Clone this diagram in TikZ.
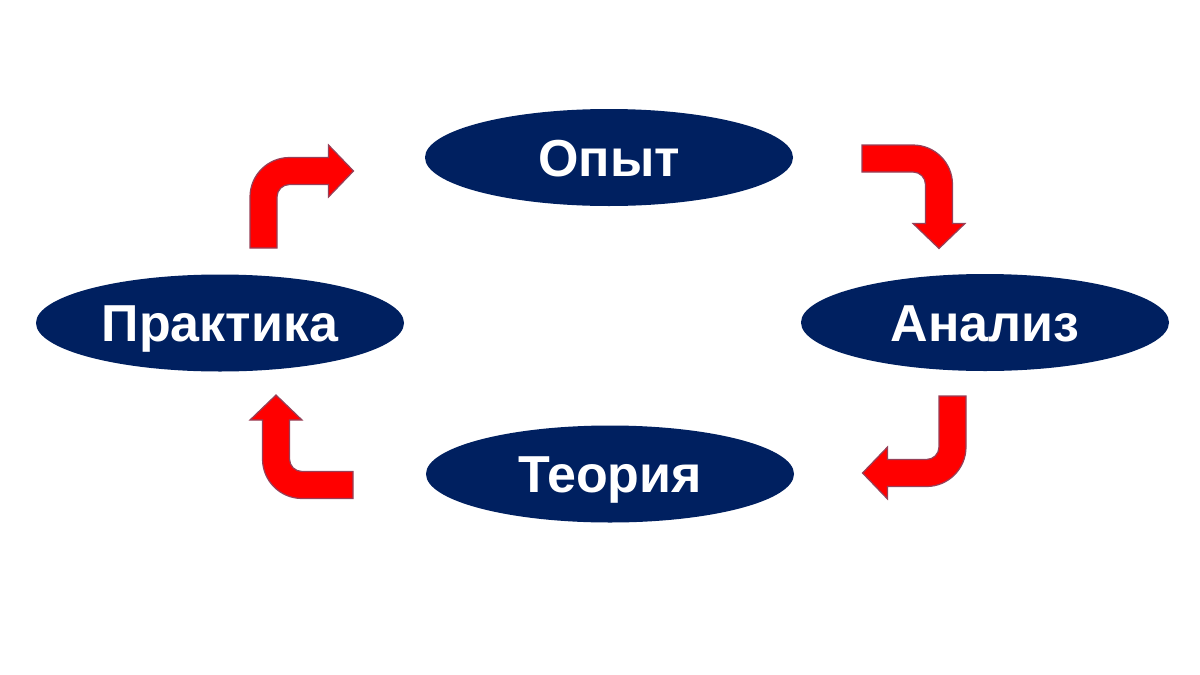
\documentclass[tikz,border=0pt]{standalone}
\usepackage{fontspec}
\setmainfont{Liberation Sans}
\usetikzlibrary{shapes.geometric}
\definecolor{cStage}{RGB}{0,32,96}
\definecolor{cArrow}{RGB}{255,0,0}
\definecolor{cRim}{RGB}{150,64,88}

\begin{document}
\begin{tikzpicture}[
  x=0.5pt, y=-0.5pt,
  stage/.style ={ellipse, fill=cStage, text=white,
                 font=\fontsize{26}{30}\selectfont\bfseries,
                 minimum width=184pt, minimum height=48.5pt, inner sep=0pt,
                 text height=18.6pt, text depth=0pt},
  turn/.style  ={fill=cArrow, draw=cRim, line width=0.6pt, line join=miter},
  % one bent block arrow: tail at the origin, up first, then right
  turnarrow/.pic={
    \path[turn] (-13.5,0) -- (-13.5,-51)
      arc[start angle=180,end angle=270,radius=39.5]
      -- (65,-90.5) -- (65,-103) -- (90,-77) -- (65,-51) -- (65,-63.5) -- (26,-63.5)
      arc[start angle=270,end angle=180,radius=12.5]
      -- (13.5,0) -- cycle;},
]

\useasboundingbox (0,0) rectangle (1200,675);

% ----- the four stages ----------------------------------------------------
\node[stage] (opyt)     at (609,157.5) {Опыт};
\node[stage] (analiz)   at (985,322.5) {Анализ};
\node[stage] (teoriya)  at (610,474)   {Теория};
\node[stage] (praktika) at (220,323)   {Практика};

% ----- bent arrows, clockwise round the cycle -----------------------------
\pic             at (263.5,248)  {turnarrow};
\pic[rotate=-90] at (862,158.5)  {turnarrow};
\pic[rotate=180] at (952.5,396)  {turnarrow};
\pic[rotate=90]  at (353,485)    {turnarrow};

\end{tikzpicture}
\end{document}
